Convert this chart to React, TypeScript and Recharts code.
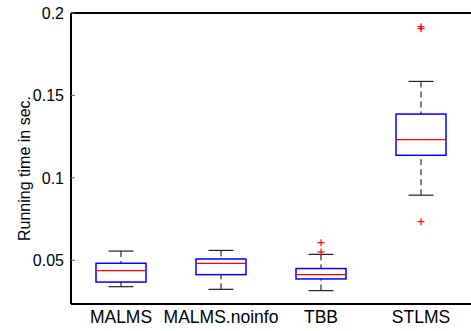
import React from 'react';
import { ComposedChart, Bar, Scatter, XAxis, YAxis, ReferenceLine } from 'recharts';

// Box-plot statistics per method (running time in seconds)
const categories = ['MALMS', 'MALMS.noinfo', 'TBB', 'STLMS'];
const lowerWhisker = [0.034, 0.0324, 0.0316, 0.0895];
const lowerQuartile = [0.0368, 0.0413, 0.0387, 0.1137];
const medians = [0.0437, 0.0482, 0.0413, 0.1232];
const upperQuartile = [0.0482, 0.0508, 0.045, 0.1387];
const upperWhisker = [0.0556, 0.056, 0.0536, 0.1585];

// Points beyond the whiskers
const outlierNames = ['TBB', 'TBB', 'STLMS', 'STLMS', 'STLMS'];
const outlierValues = [0.0607, 0.055, 0.1917, 0.1905, 0.0734];

const yTicks = [0.05, 0.1, 0.15, 0.2];
const yDomain: [number, number] = [0.0235, 0.2];
const yTitle = 'Running time in sec.';

const FONT = '"Liberation Sans", Arial, Helvetica, sans-serif';

const rows = categories.map((name, i) => ({
  name,
  lo: lowerWhisker[i],
  q1: lowerQuartile[i],
  med: medians[i],
  q3: upperQuartile[i],
  hi: upperWhisker[i],
}));

const outlierRows = outlierNames.map((name, i) => ({ name, value: outlierValues[i] }));

function BoxShape(props: any) {
  const { x, y, width, height, payload } = props;
  if (x == null || y == null || !payload) return null;
  const top = Math.min(y, y + height);
  const h = Math.abs(height);
  const { lo, q1, med, q3, hi } = payload;
  const pxPer = h / (hi - lo);
  const yOf = (v: number) => top + (hi - v) * pxPer;
  const cx = x + width / 2;
  const capHalf = width / 4;
  return (
    <g>
      <line x1={cx} x2={cx} y1={yOf(hi)} y2={yOf(q3)} stroke="#000" strokeWidth={1} strokeDasharray="6 4" />
      <line x1={cx} x2={cx} y1={yOf(lo)} y2={yOf(q1)} stroke="#000" strokeWidth={1} strokeDasharray="6 4" />
      <line x1={cx - capHalf} x2={cx + capHalf} y1={yOf(hi)} y2={yOf(hi)} stroke="#222" strokeWidth={1.2} />
      <line x1={cx - capHalf} x2={cx + capHalf} y1={yOf(lo)} y2={yOf(lo)} stroke="#222" strokeWidth={1.2} />
      <rect x={x} y={yOf(q3)} width={width} height={yOf(q1) - yOf(q3)} fill="none" stroke="#0000ff" strokeWidth={1.5} />
      <line x1={x} x2={x + width} y1={yOf(med)} y2={yOf(med)} stroke="#ff0000" strokeWidth={1.3} />
    </g>
  );
}

function PlusShape(props: any) {
  const { cx, cy } = props;
  if (cx == null || cy == null) return null;
  const r = 3.5;
  return (
    <g stroke="#ff0000" strokeWidth={1.2}>
      <line x1={cx - r} x2={cx + r} y1={cy} y2={cy} />
      <line x1={cx} x2={cx} y1={cy - r} y2={cy + r} />
    </g>
  );
}

function LeftTick(props: any) {
  const { x, y, payload } = props;
  return (
    <g>
      <line x1={x} x2={x + 4} y1={y} y2={y} stroke="#666" strokeWidth={1} />
      <text x={x - 7} y={y} dy="0.36em" textAnchor="end" fontSize={16} fontFamily={FONT} fill="#000">
        {String(payload.value)}
      </text>
    </g>
  );
}

function RightTick(props: any) {
  const { x, y } = props;
  return <line x1={x - 4} x2={x} y1={y} y2={y} stroke="#666" strokeWidth={1} />;
}

function XTick(props: any) {
  const { x, y, payload } = props;
  return (
    <text x={x} y={y + 19} textAnchor="middle" fontSize={17.5} fontFamily={FONT} fill="#000">
      {payload.value}
    </text>
  );
}

function renderYTitle(props: any) {
  const vb = props.viewBox || { x: 0, y: 13, width: 71, height: 291 };
  const tx = vb.x + 30;
  const ty = vb.y + vb.height / 2 + 10;
  return (
    <text
      x={tx}
      y={ty}
      transform={`rotate(-90 ${tx} ${ty})`}
      textAnchor="middle"
      fontSize={16}
      fontFamily={FONT}
      fill="#000"
    >
      {yTitle}
    </text>
  );
}

export default function App() {
  return (
    <div style={{ position: 'absolute', left: 0, top: 0, width: 471, height: 331, background: '#fff' }}>
      <ComposedChart width={471} height={331} data={rows} margin={{ top: 13, right: 0, bottom: 0, left: 0 }}>
        <XAxis
          dataKey="name"
          type="category"
          allowDuplicatedCategory={false}
          height={27}
          interval={0}
          tickSize={0}
          tickMargin={0}
          tickLine={false}
          axisLine={{ stroke: '#000', strokeWidth: 2 }}
          tick={XTick}
        />
        <YAxis
          yAxisId="left"
          type="number"
          domain={yDomain}
          ticks={yTicks}
          allowDataOverflow
          width={71}
          tickSize={0}
          tickMargin={0}
          tickLine={false}
          axisLine={{ stroke: '#000', strokeWidth: 2 }}
          tick={LeftTick}
          label={{ value: yTitle, content: renderYTitle }}
        />
        <YAxis
          yAxisId="right"
          orientation="right"
          type="number"
          domain={yDomain}
          ticks={yTicks}
          allowDataOverflow
          width={0}
          tickSize={0}
          tickMargin={0}
          tickLine={false}
          axisLine={false}
          tick={RightTick}
        />
        <ReferenceLine yAxisId="left" y={0.2} stroke="#000" strokeWidth={2} ifOverflow="visible" />
        <Bar
          yAxisId="left"
          dataKey={(d: any) => [d.lo, d.hi]}
          barSize={50}
          shape={BoxShape}
          isAnimationActive={false}
        />
        <Scatter
          yAxisId="left"
          data={outlierRows}
          dataKey="value"
          shape={PlusShape}
          isAnimationActive={false}
        />
      </ComposedChart>
    </div>
  );
}
